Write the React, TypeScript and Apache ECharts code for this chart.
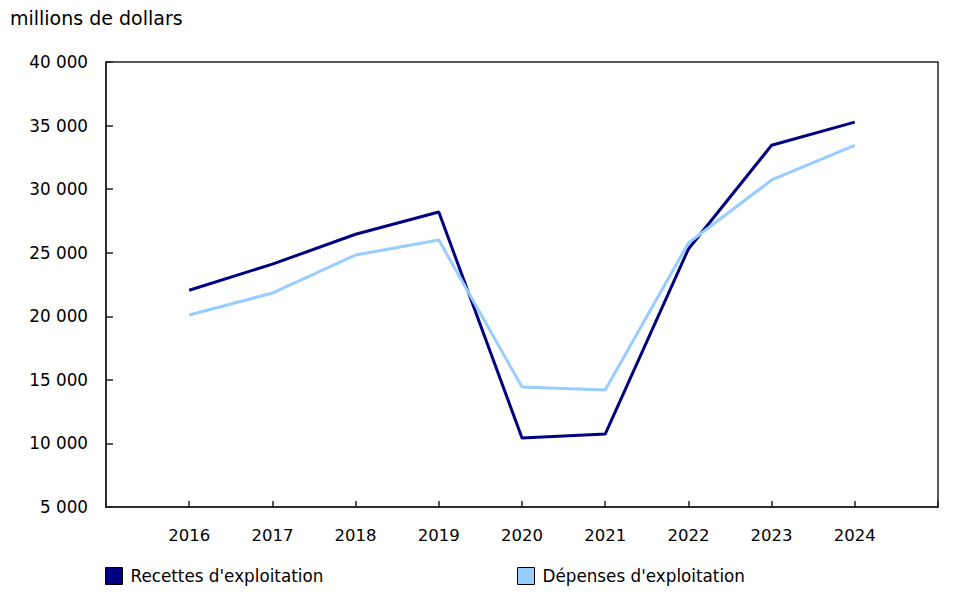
import React, { useEffect, useRef } from "react";
import * as echarts from "echarts";

const years = ["", "2016", "2017", "2018", "2019", "2020", "2021", "2022", "2023", "2024", ""];
const recettes = [null, 22050, 24100, 26450, 28200, 10430, 10740, 25290, 33450, 35270, null];
const depenses = [null, 20100, 21830, 24820, 26000, 14440, 14200, 25760, 30720, 33450, null];
const yTicks = { min: 5000, max: 40000, interval: 5000 };
const names = ["Recettes d'exploitation", "Dépenses d'exploitation"];
const colors = ["#000080", "#99CCFF"];

const font = "'DejaVu Sans', Verdana, sans-serif";

export default function App() {
  const ref = useRef<HTMLDivElement>(null);
  useEffect(() => {
    if (!ref.current) return;
    const chart = echarts.init(ref.current, null, { renderer: "svg" });
    const legendBase = {
      icon: "rect",
      itemWidth: 17,
      itemHeight: 17,
      itemGap: 8,
      padding: 0,
      itemStyle: { borderColor: "#000", borderWidth: 1 },
      textStyle: { fontFamily: font, fontSize: 16.8, color: "#000", padding: [0, 0, 0, 3] },
    };
    chart.setOption({
      animation: false,
      textStyle: { fontFamily: font },
      title: {
        text: "millions de dollars",
        left: 2,
        top: 0,
        padding: 0,
        textStyle: { fontFamily: font, fontSize: 19, fontWeight: "normal", color: "#000" },
      },
      legend: [
        { ...legendBase, data: [names[0]], left: 97, top: 559 },
        { ...legendBase, data: [names[1]], left: 509, top: 559 },
      ],
      grid: {
        left: 98,
        right: 20,
        top: 54,
        bottom: 84,
        show: true,
        borderColor: "#222",
        borderWidth: 1.5,
        containLabel: false,
      },
      xAxis: {
        type: "category",
        data: years,
        boundaryGap: false,
        axisLine: { lineStyle: { color: "#222", width: 1.5 } },
        axisTick: { inside: true, length: 6, lineStyle: { color: "#222", width: 1.5 } },
        axisLabel: { margin: 20, fontSize: 16.5, color: "#000", fontFamily: font },
        splitLine: { show: false },
      },
      yAxis: {
        type: "value",
        min: yTicks.min,
        max: yTicks.max,
        interval: yTicks.interval,
        axisLine: { show: true, lineStyle: { color: "#222", width: 1.5 } },
        axisTick: { show: true, inside: true, length: 7, lineStyle: { color: "#222", width: 1.5 } },
        axisLabel: {
          margin: 18,
          fontSize: 16.8,
          color: "#000",
          fontFamily: font,
          formatter: (v: number) => String(v).replace(/\B(?=(\d{3})+(?!\d))/g, " "),
        },
        splitLine: { show: false },
      },
      series: [
        {
          name: names[0],
          type: "line",
          data: recettes,
          symbol: "none",
          color: colors[0],
          lineStyle: { color: colors[0], width: 3 },
        },
        {
          name: names[1],
          type: "line",
          data: depenses,
          symbol: "none",
          color: colors[1],
          lineStyle: { color: colors[1], width: 3 },
        },
      ],
    });
    return () => chart.dispose();
  }, []);
  return <div ref={ref} style={{ width: 950, height: 583 }} />;
}
